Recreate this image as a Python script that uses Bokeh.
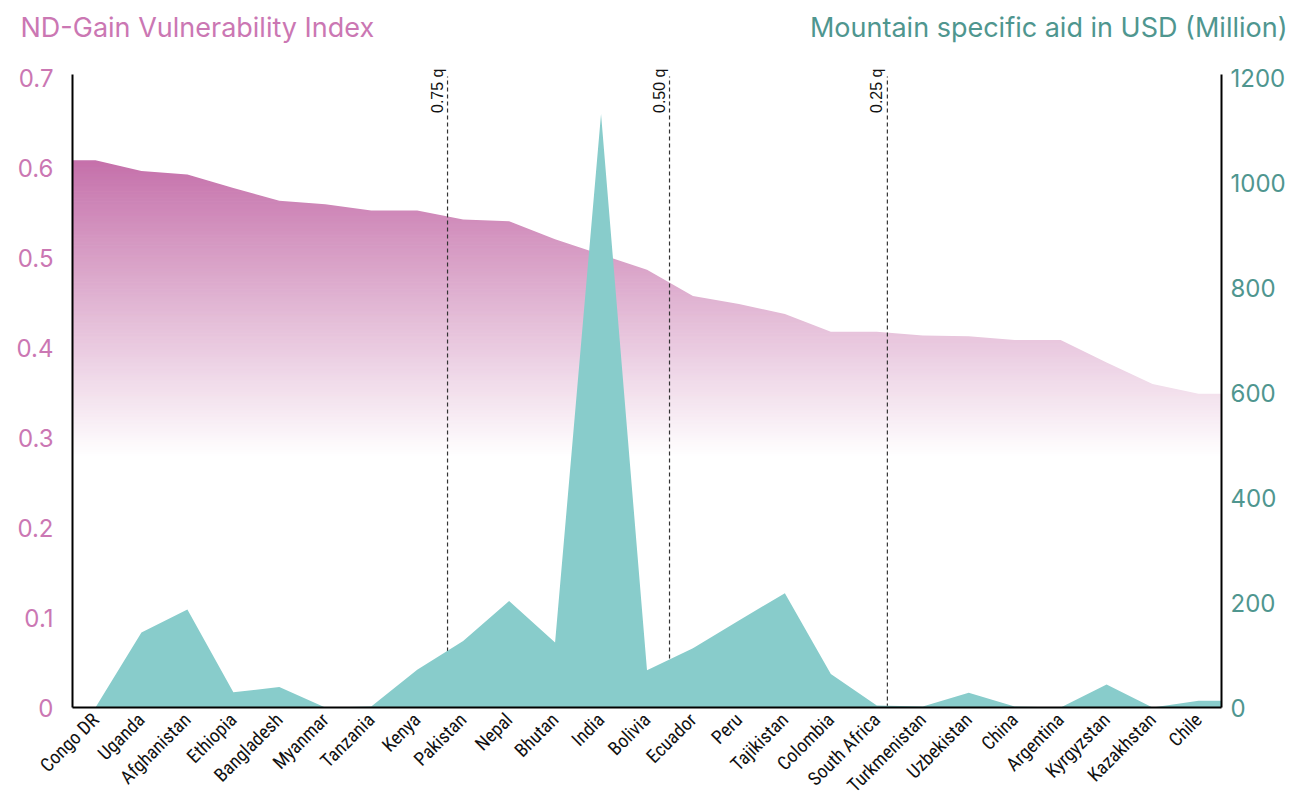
import numpy as np
from bokeh.plotting import figure
from bokeh.models import Range1d, LinearAxis, FixedTicker, Label
from bokeh.embed import file_html
from bokeh.resources import INLINE

# ---------------- data ----------------
countries = ["Congo DR", "Uganda", "Afghanistan", "Ethiopia", "Bangladesh", "Myanmar",
             "Tanzania", "Kenya", "Pakistan", "Nepal", "Bhutan", "India", "Bolivia",
             "Ecuador", "Peru", "Tajikistan", "Colombia", "South Africa", "Turkmenistan",
             "Uzbekistan", "China", "Argentina", "Kyrgyzstan", "Kazakhstan", "Chile"]
vulnerability = [0.609, 0.597, 0.593, 0.578, 0.564, 0.560, 0.553, 0.553, 0.543, 0.541,
                 0.521, 0.504, 0.487, 0.458, 0.449, 0.438, 0.418, 0.418, 0.414, 0.413,
                 0.409, 0.409, 0.384, 0.360, 0.349]
aid_musd = [0, 143, 187, 29, 39, 0, 2, 72, 127, 203, 124, 1132, 71, 113, 166, 218, 64,
            4, 2, 28, 2, 0, 44, 0, 13]
quantile_labels = ["0.75 q", "0.50 q", "0.25 q"]
quantile_pos = [8.16, 12.99, 17.73]          # position along the country axis
left_ticks = [0, 0.1, 0.2, 0.3, 0.4, 0.5, 0.6, 0.7]
right_ticks = [0, 200, 400, 600, 800, 1000, 1200]

# ---------------- styles ----------------
PINK_TXT = "#cb77b3"
TEAL = "#88cccb"
TEAL_TXT = "#4f968f"
TXT_FONT = "Inter"
COND_FONT = "'Liberation Sans Narrow', 'Roboto Condensed', 'DejaVu Sans Condensed', sans-serif"

n = len(countries)
centers = [i + 0.5 for i in range(n)]
# areas are continued flat to the plot edges
ext_x = [0] + centers + [n]
ext_vul = [vulnerability[0]] + vulnerability + [vulnerability[-1]]
ext_aid = [aid_musd[0]] + aid_musd + [aid_musd[-1]]

PX = 0.7 / 633.0                 # left-axis units per pixel
AX_TOP = 0.7 + 4 * PX            # where the axis lines end
Y_TOP = 0.7 + 12 * PX            # top of plotting frame
AID_SCALE = 1200 / 0.7
XPX = n / 1149.0                 # x units per pixel

p = figure(width=1291, height=807, output_backend="svg", toolbar_location=None,
           x_range=Range1d(0, n), y_range=Range1d(0, Y_TOP),
           min_border_left=72, min_border_right=70, min_border_top=64, min_border_bottom=97,
           background_fill_color="white", border_fill_color="white")
p.outline_line_color = None
p.grid.visible = False
p.extra_y_ranges = {"aid": Range1d(0, Y_TOP * AID_SCALE)}

# ---- gradient fill of vulnerability area (vertical fade) ----
g_lo, g_hi = 0.28, 0.615
nstrip = 130
edges = np.linspace(g_lo, g_hi, nstrip + 1)
base = np.array([0xc4, 0x6e, 0xa9], dtype=float)
cols = []
for k in range(nstrip):
    t = (k + 0.5) / nstrip
    c = 255 - (255 - base) * t
    cols.append("#%02x%02x%02x" % tuple(int(round(v)) for v in c))
p.quad(left=0, right=n, bottom=edges[:-1], top=edges[1:], fill_color=cols, line_color=cols,
       line_width=1)
# white above the curve
p.varea(x=ext_x, y1=ext_vul, y2=Y_TOP, fill_color="white")

# ---- quantile lines ----
p.segment(x0=quantile_pos, y0=0, x1=quantile_pos, y1=AX_TOP - 2 * PX, line_color="#333333",
          line_width=1.2, line_dash="4 3")
for lab, xq in zip(quantile_labels, quantile_pos):
    p.add_layout(Label(x=xq, y=AX_TOP + 6 * PX, text=lab, angle=np.pi / 2, text_align="right",
                       text_baseline="bottom", x_offset=-2,
                       text_font_size="16px", text_color="#111111",
                       text_font="Liberation Sans"))

# ---- aid area ----
p.varea(x=ext_x, y1=0, y2=ext_aid, fill_color=TEAL, y_range_name="aid")

# ---- axes ----
xa = p.xaxis[0]
xa.ticker = FixedTicker(ticks=centers)
xa.major_label_overrides = {c: name for c, name in zip(centers, countries)}
xa.major_label_orientation = np.pi / 4
xa.major_label_text_font = COND_FONT
xa.major_label_text_font_size = "19px"
xa.major_label_text_color = "#111111"
xa.major_label_standoff = 9
xa.major_tick_out = 0
xa.major_tick_in = 0
xa.major_tick_line_color = None
xa.minor_tick_line_color = None
xa.axis_line_color = "black"
xa.axis_line_width = 2

ya = p.yaxis[0]
ya.ticker = FixedTicker(ticks=left_ticks)
ya.bounds = (0, AX_TOP)
ya.major_label_overrides = {t: ("0" if t == 0 else str(t)) for t in left_ticks}
ya.major_label_text_font = TXT_FONT
ya.major_label_text_font_size = "24px"
ya.major_label_text_color = PINK_TXT
ya.major_label_standoff = 19
ya.major_tick_out = 0
ya.major_tick_in = 0
ya.major_tick_line_color = None
ya.minor_tick_line_color = None
ya.axis_line_color = "black"
ya.axis_line_width = 2

ra = LinearAxis(y_range_name="aid", ticker=FixedTicker(ticks=right_ticks))
ra.bounds = (0, AX_TOP * AID_SCALE)
ra.major_label_text_font = TXT_FONT
ra.major_label_text_font_size = "24px"
ra.major_label_text_color = TEAL_TXT
ra.major_label_standoff = 9
ra.major_tick_out = 0
ra.major_tick_in = 0
ra.major_tick_line_color = None
ra.minor_tick_line_color = None
ra.axis_line_color = "black"
ra.axis_line_width = 2
p.add_layout(ra, "right")

# ---- titles (in the top panel so they are not clipped by the frame) ----
TITLE_Y = 0.7 + 51.5 * PX
p.add_layout(Label(x=-52 * XPX, y=TITLE_Y, text="ND-Gain Vulnerability Index",
                   text_font=TXT_FONT, text_font_size="27px", text_color=PINK_TXT,
                   text_baseline="middle"), "above")
p.add_layout(Label(x=n + 66 * XPX, y=TITLE_Y, text="Mountain specific aid in USD (Million)",
                   text_font=TXT_FONT, text_font_size="27px", text_color=TEAL_TXT,
                   text_align="right", text_baseline="middle"), "above")

open("out.html", "w").write(file_html(p, INLINE))
